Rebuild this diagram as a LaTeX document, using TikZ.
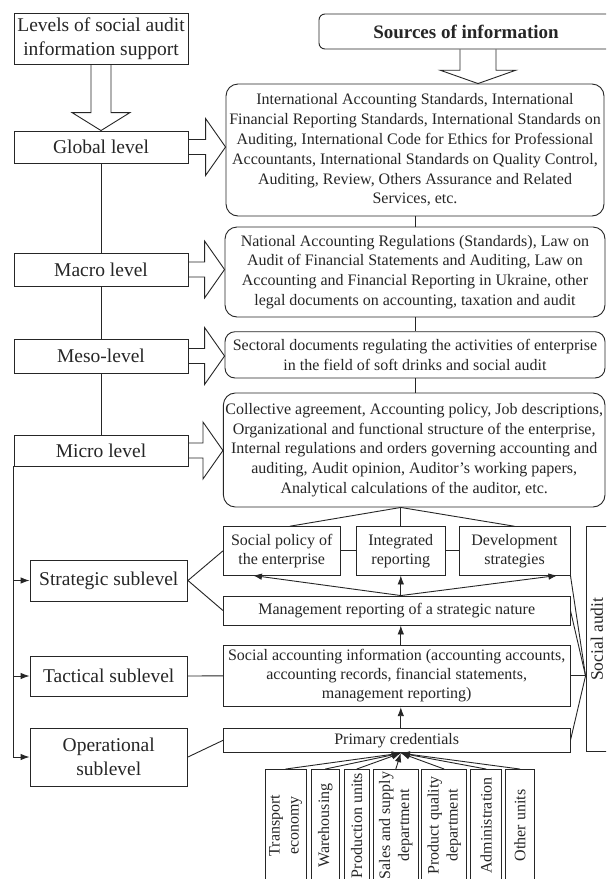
\documentclass[tikz,border=0pt]{standalone}
\usepackage{fontspec}
\setmainfont{Liberation Serif}
\usetikzlibrary{calc,arrows.meta}
\newcommand\hollowR[2]{%
  \draw[hollow] let \p1=(#1.east), \p2=(#2.west) in
    (\x1,\y1+7.5pt) -- (\x2-20pt,\y1+7.5pt) -- (\x2-20pt,\y1+28.5pt) -- (\x2,\y1)
    -- (\x2-20pt,\y1-28.5pt) -- (\x2-20pt,\y1-7.5pt) -- (\x1,\y1-7.5pt);}
\begin{document}
\begin{tikzpicture}[x=1pt,y=-1pt,line width=0.9pt,color=black!85,
  lbox/.style={draw, rectangle, inner sep=0pt, align=center, font=\fontsize{19.5}{23.5}\selectfont},
  rbox/.style={draw, rounded corners=12pt, inner sep=0pt, align=center, font=\fontsize{16}{19.8}\selectfont},
  sbox/.style={draw, rectangle, inner sep=0pt, align=center, font=\fontsize{16}{18.8}\selectfont},
  dept/.style={draw, rotate=90, inner sep=0pt, align=center, minimum width=112, font=\fontsize{16}{19}\selectfont},
  hollow/.style={draw, line join=miter},
  arr/.style={-{Latex[length=9pt,width=6.5pt]}}]
\useasboundingbox (0,0) rectangle (606,879);
\fill[white] (0,0) rectangle (606,879);
\clip (0,0) rectangle (606,879);

% left column
\node[lbox, minimum width=174, minimum height=51] (lv) at (101,38.5) {Levels of social audit\\information support};
\node[lbox, minimum width=174, minimum height=32] (gl) at (101,147) {Global level};
\node[lbox, minimum width=174, minimum height=33] (ml) at (101,269.5) {Macro level};
\node[lbox, minimum width=174, minimum height=34] (sl) at (101,356) {Meso-level};
\node[lbox, minimum width=174, minimum height=31] (cl) at (101,450.5) {Micro level};
\node[lbox, minimum width=157.5, minimum height=41] (ss) at (108.75,580.5) {Strategic sublevel};
\node[lbox, minimum width=157.5, minimum height=40] (ts) at (108.75,676) {Tactical sublevel};
\node[lbox, minimum width=157.5, minimum height=58] (os) at (108.75,757) {Operational\\sublevel};

% sources column
\node[draw, rounded corners=6pt, minimum width=294, minimum height=35, inner sep=0pt,
  font=\fontsize{19}{23}\selectfont\bfseries] (src) at (466,31.5) {Sources of information};
\node[rbox, minimum width=378, minimum height=132] (gi) at (415,150) {International Accounting Standards, International\\Financial Reporting Standards, International Standards on\\Auditing, International Code for Ethics for Professional\\Accountants, International Standards on Quality Control,\\Auditing, Review, Others Assurance and Related\\Services, etc.};
\node[rbox, minimum width=380, minimum height=90] (mi) at (415,272) {National Accounting Regulations (Standards), Law on\\Audit of Financial Statements and Auditing, Law on\\Accounting and Financial Reporting in Ukraine, other\\legal documents on accounting, taxation and audit};
\node[rbox, rounded corners=10pt, minimum width=380, minimum height=46.3] (si) at (415,354.85) {Sectoral documents regulating the activities of enterprise\\in the field of soft drinks and social audit};
\node[rbox, minimum width=381.6, minimum height=114] (ci) at (414.2,450) {Collective agreement, Accounting policy, Job descriptions,\\Organizational and functional structure of the enterprise,\\Internal regulations and orders governing accounting and\\auditing, Audit opinion, Auditor's working papers,\\Analytical calculations of the auditor, etc.};

% lower right blocks
\node[sbox, minimum width=116.6, minimum height=48.3] (sp) at (281.7,550.85) {Social policy of\\the enterprise};
\node[sbox, minimum width=89, minimum height=48.3] (ir) at (400.8,550.85) {Integrated\\reporting};
\node[sbox, minimum width=111, minimum height=48.3] (ds) at (514.5,550.85) {Development\\strategies};
\node[sbox, minimum width=346.6, minimum height=29] (mr) at (396.7,610.5) {Management reporting of a strategic nature};
\node[sbox, minimum width=346.6, minimum height=61.7] (sa) at (396.7,675.85) {Social accounting information (accounting accounts,\\accounting records, financial statements,\\management reporting)};
\node[sbox, minimum width=346.6, minimum height=24.7] (pc) at (396.7,740.35) {Primary credentials};
\node[draw, rotate=90, minimum width=225, minimum height=22, inner sep=0pt,
  font=\fontsize{17.5}{20}\selectfont] (au) at (597,639.2) {Social audit};

% departments
\node[dept, minimum height=41] (te) at (285.5,825.5) {Transport\\economy};
\node[dept, minimum height=28.3] (wh) at (325.2,825.5) {Warehousing};
\node[dept, minimum height=25.3] (pu) at (356.7,825.5) {Production units};
\node[dept, minimum height=45] (sd) at (395.8,825.5) {Sales and supply\\department};
\node[dept, minimum height=45] (pq) at (444.2,825.5) {Product quality\\department};
\node[dept, minimum height=31] (ad) at (486.2,825.5) {Administration};
\node[dept, minimum height=28.6] (ou) at (520,825.5) {Other units};

% hollow arrows
\draw[hollow] let \p1=(lv.south), \p2=(gl.north) in
  (\x1-10pt,\y1) -- (\x1-10pt,\y2+18pt) -- (\x1-29pt,\y2+18pt) -- (\x1,\y2)
  -- (\x1+29pt,\y2+18pt) -- (\x1+10pt,\y2+18pt) -- (\x1+10pt,\y1);
\draw[hollow] let \p1=($(src.south)+(12,0)$), \p2=(gi.north) in
  (\x1-18pt,\y1) -- (\x1-18pt,\y2+13.3pt) -- (\x1-37.7pt,\y2+13.3pt) -- (\x1,\y2)
  -- (\x1+37.7pt,\y2+13.3pt) -- (\x1+18pt,\y2+13.3pt) -- (\x1+18pt,\y1);
\hollowR{gl}{gi}
\hollowR{ml}{mi}
\hollowR{sl}{si}
\hollowR{cl}{ci}

% level chain
\draw (gl) -- (ml);
\draw (ml) -- (sl);
\draw (sl) -- (cl);
\draw (gi) -- (mi);
\draw (mi) -- (si);
\draw (si.south) -- (si.south |- ci.north);
\draw[arr] (cl.south west) |- (os.west);
\draw[arr] (cl.south west |- ss.west) -- (ss.west);
\draw[arr] (cl.south west |- ts.west) -- (ts.west);

% fan from micro sources
\coordinate (fan) at (ir.north |- ci.south);
\draw (fan) -- ($(sp.north)+(8,0)$);
\draw (fan) -- (ir.north);
\draw (fan) -- (ds.north);
\draw (sp) -- (ir);
\draw (ir) -- (ds);

% management reporting arrows
\coordinate (mtop) at (ir.south |- mr.north);
\draw[arr] (mtop) -- ($(sp.south west)+(30,0)$);
\draw[arr] (mtop) -- (ir.south);
\draw[arr] (mtop) -- ($(ds.south east)+(-13,0)$);
\draw[arr] (ir.south |- sa.north) -- (ir.south |- mr.south);
\draw[arr] (ir.south |- pc.north) -- (ir.south |- sa.south);

% sublevel links
\draw (ss.east) -- (sp.west);
\draw (ss.east) -- (mr.west);
\draw (ts.east) -- (sa.west);
\draw (os.east) -- (pc.west);

% social audit links
\coordinate (hub) at (au.north |- sa.east);
\draw (ds.south east) -- (hub);
\draw (mr.east) -- (hub);
\draw (sa.east) -- (hub);
\draw (pc.east) -- (hub);

% department arrows
\coordinate (pcb) at (ir.south |- pc.south);
\foreach \n in {te,wh,pu,sd,pq,ad,ou} \draw[arr] (\n.east) -- (pcb);
\end{tikzpicture}
\end{document}
